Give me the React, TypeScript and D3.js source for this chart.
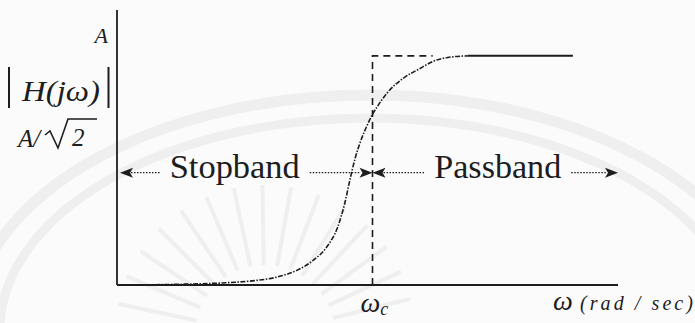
import * as d3 from 'd3';

// magnitude response |H(jw)| (w in % of axis length, A = 1)
const omega = [0, 14, 22, 27, 32, 36, 39, 42, 44, 45.5, 46.5, 47.5, 48.5, 50, 51, 52, 54, 57, 60.5, 63, 66, 70];
const magnitude = [0, 0.004, 0.01, 0.018, 0.035, 0.065, 0.105, 0.17, 0.25, 0.36, 0.46, 0.55, 0.62, 0.7, 0.745, 0.78, 0.84, 0.9, 0.945, 0.975, 0.993, 1];
const plateauOmega = [70, 91];
const plateauMag = [1, 1];

const omegaC = 51;
const idealEnd = 63;
const bandLevel = 0.49;
const bandNames = ['Stopband', 'Passband'];
const bandFrom = [0.6, 51];
const bandTo = [51, 100];
const bandCenter = [23.5, 76];
const bandTextWidth = [130, 127];

const W = 695;
const H = 323;
const INK = '#1d1d1d';
const FONT = '"Liberation Serif", "Times New Roman", serif';

export default function App() {
  const x = d3.scaleLinear().domain([0, 100]).range([117, 618]);
  const y = d3.scaleLinear().domain([0, 1.2]).range([285, 10]);

  const line = d3.line<number>()
    .x((_, i) => x(omega[i]))
    .y(d => y(d))
    .curve(d3.curveMonotoneX);

  const plateau = d3.line<number>()
    .x((_, i) => x(plateauOmega[i]))
    .y(d => y(d));

  const arrow = (tip: number, dir: number, yy: number) => {
    const len = 13, half = 5;
    return `M${tip},${yy} L${tip - dir * len},${yy - half} L${tip - dir * (len - 3)},${yy} L${tip - dir * len},${yy + half} Z`;
  };

  // faint watermark emblem behind the chart
  const rays = d3.range(-168, -10, 11).map(a => (a * Math.PI) / 180);

  const yBand = y(bandLevel);

  return (
    <svg width={W} height={H} style={{ position: 'absolute', left: 0, top: 0, background: '#fbfbfb' }}>
      <g fill="none" stroke="#efefef">
        <ellipse cx={370} cy={330} rx={400} ry={235} strokeWidth={11} />
        <ellipse cx={370} cy={330} rx={370} ry={212} strokeWidth={9} />
        {rays.map((a, i) => (
          <line key={i} x1={265 + 70 * Math.cos(a)} y1={335 + 70 * Math.sin(a)}
            x2={265 + 150 * Math.cos(a)} y2={335 + 150 * Math.sin(a)} strokeWidth={4} />
        ))}
      </g>

      {/* axes */}
      <line x1={x(0)} x2={x(0)} y1={y(0)} y2={y(1.2)} stroke={INK} strokeWidth={1.8} />
      <line x1={x(0)} x2={x(100)} y1={y(0)} y2={y(0)} stroke={INK} strokeWidth={2.2} />

      {/* ideal brick-wall response */}
      <path d={`M${x(omegaC)},${y(0)} V${y(1)} H${x(idealEnd)}`} fill="none" stroke={INK}
        strokeWidth={1.6} strokeDasharray="7 5" />

      {/* actual response */}
      <path d={line(magnitude) ?? ''} fill="none" stroke={INK} strokeWidth={1.6} strokeDasharray="5 1.5 1.5 1.5" />
      <path d={plateau(plateauMag) ?? ''} fill="none" stroke={INK} strokeWidth={2} />

      {/* band annotations */}
      {bandNames.map((name, i) => {
        const x0 = x(bandFrom[i]);
        const x1 = x(bandTo[i]);
        const cx = x(bandCenter[i]);
        const tw = bandTextWidth[i];
        return (
          <g key={name}>
            <path d={arrow(x0, -1, yBand)} fill={INK} />
            <path d={arrow(x1, 1, yBand)} fill={INK} />
            <line x1={x0 + 8} x2={cx - tw / 2 - 10} y1={yBand} y2={yBand} stroke={INK} strokeWidth={1.2} strokeDasharray="1.5 1.5" />
            <line x1={cx + tw / 2 + 10} x2={x1 - 12} y1={yBand} y2={yBand} stroke={INK} strokeWidth={1.2} strokeDasharray="1.5 1.5" />
            <text x={cx} y={yBand + 5} textAnchor="middle" fontFamily={FONT} fontSize={33} fill={INK}
              textLength={tw} lengthAdjust="spacingAndGlyphs">{name}</text>
          </g>
        );
      })}

      {/* y axis labels */}
      <g fontFamily={FONT} fill={INK} fontStyle="italic">
        <text x={108} y={y(1) - 13} textAnchor="end" fontSize={22}>A</text>
        <line x1={9} x2={9} y1={67} y2={108} stroke={INK} strokeWidth={2} />
        <line x1={108.5} x2={108.5} y1={67} y2={108} stroke={INK} strokeWidth={2} />
        <text x={22} y={101} fontSize={30} textLength={78} lengthAdjust="spacingAndGlyphs">H(jω)</text>
        <text x={18} y={147} fontSize={25}>A/</text>
        <path d="M45,135 L50,131 L58,148 L68,119 H97" fill="none" stroke={INK} strokeWidth={1.6} />
        <text x={72} y={146} fontSize={25}>2</text>
      </g>

      {/* x axis labels */}
      <g fontFamily={FONT} fill={INK} fontStyle="italic">
        <text x={x(omegaC) - 12} y={312} fontSize={28}>ω<tspan fontSize={18} dy={3}>c</tspan></text>
        <text x={553} y={310} fontSize={28}>ω</text>
        <text x={580} y={310} fontSize={20} textLength={113} lengthAdjust="spacing">(rad / sec)</text>
      </g>
    </svg>
  );
}
